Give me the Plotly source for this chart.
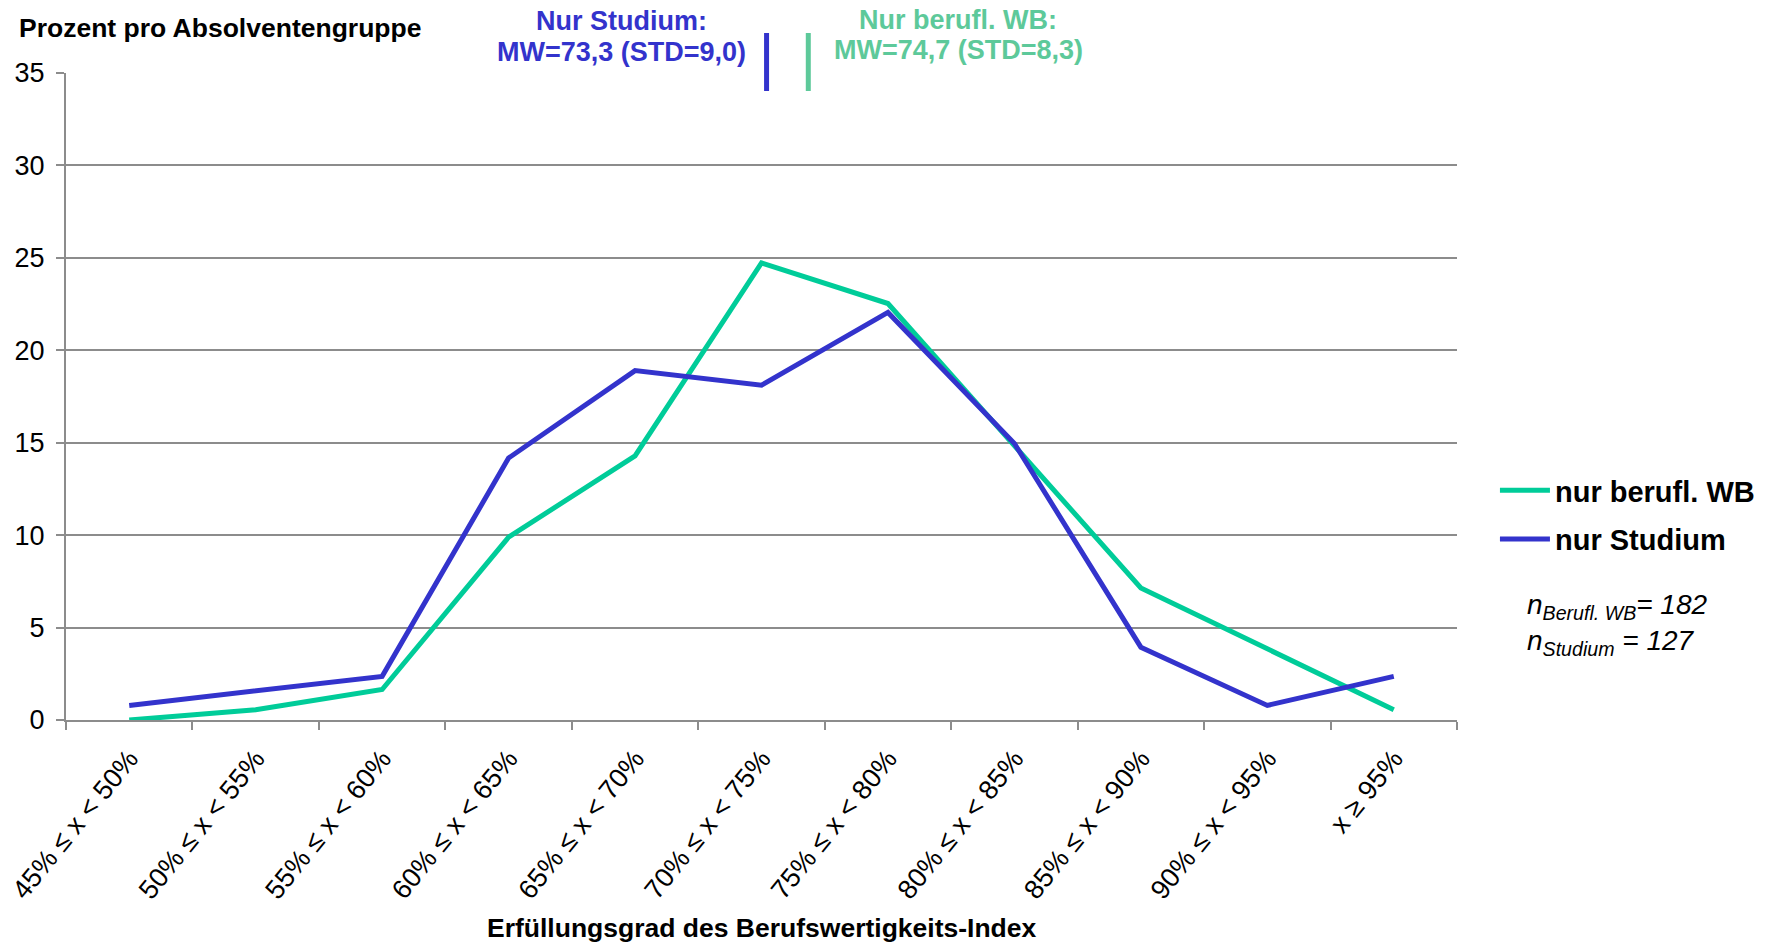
import plotly.graph_objects as go

# Erfüllungsgrad-Klassen
kategorien = ['45% ≤ x < 50%', '50% ≤ x < 55%', '55% ≤ x < 60%', '60% ≤ x < 65%',
              '65% ≤ x < 70%', '70% ≤ x < 75%', '75% ≤ x < 80%', '80% ≤ x < 85%',
              '85% ≤ x < 90%', '90% ≤ x < 95%', 'x ≥ 95%']

# Prozent pro Absolventengruppe
berufl_wb = [0.0, 0.55, 1.65, 9.89, 14.29, 24.73, 22.53, 14.84, 7.14, 3.85, 0.55]
studium = [0.79, 1.57, 2.36, 14.17, 18.90, 18.11, 22.05, 14.96, 3.94, 0.79, 2.36]

n_berufl_wb = 182
n_studium = 127
mw_studium, std_studium = '73,3', '9,0'
mw_berufl_wb, std_berufl_wb = '74,7', '8,3'

GREEN = '#00CC99'
GREEN_TXT = '#5DC99A'
BLUE = '#3333CC'
GRID = '#8C8C8C'
FONT = 'Liberation Sans, Arial, sans-serif'

fig = go.Figure()
fig.add_trace(go.Scatter(x=kategorien, y=berufl_wb, mode='lines', name='<b>nur berufl. WB</b>',
                         legendgroup='wb', line=dict(color=GREEN, width=5)))
fig.add_trace(go.Scatter(x=kategorien, y=studium, mode='lines', name='<b>nur Studium</b>',
                         legendgroup='st', line=dict(color=BLUE, width=5)))

fig.update_xaxes(
    type='category', range=[-0.5, 10.5], tickson='boundaries', ticks='outside', ticklen=8,
    tickcolor=GRID, tickwidth=2, showline=True, linecolor=GRID, linewidth=2,
    showgrid=False, tickangle=-51, tickfont=dict(size=27, color='black'),
    ticklabelstandoff=10, automargin=False,
)
fig.update_yaxes(
    range=[0, 35], dtick=5, ticks='outside', ticklen=8, tickcolor=GRID, tickwidth=2,
    showline=True, linecolor=GRID, linewidth=2, showgrid=True, gridcolor=GRID,
    gridwidth=2, zeroline=False, tickfont=dict(size=27, color='black'),
    ticklabelstandoff=6, automargin=False,
)

# Mittelwert-Markierungen oben
for xpos, col in [(5.04, BLUE), (5.37, GREEN_TXT)]:
    fig.add_shape(type='line', xref='x', yref='paper', x0=xpos, x1=xpos,
                  y0=0.9722, y1=1.0618, line=dict(color=col, width=5))

# Beschriftungen oben (zeilenweise)
for txt, x, y, col in [
    ('Nur Studium:', 0.3994, 1.0800, BLUE),
    (f'MW={mw_studium} (STD={std_studium})', 0.3994, 1.0332, BLUE),
    ('Nur berufl. WB:', 0.6416, 1.0820, GREEN_TXT),
    (f'MW={mw_berufl_wb} (STD={std_berufl_wb})', 0.6416, 1.0362, GREEN_TXT),
]:
    fig.add_annotation(xref='paper', yref='paper', x=x, y=y, xanchor='center', yanchor='middle',
                       text=f'<b>{txt}</b>', showarrow=False, font=dict(size=27, color=col))

fig.add_annotation(xref='paper', yref='paper', x=-0.035, y=1.070, xanchor='left', yanchor='middle',
                   text='<b>Prozent pro Absolventengruppe</b>', showarrow=False,
                   font=dict(size=26.5, color='black'))
fig.add_annotation(xref='paper', yref='paper', x=0.5, y=-0.322, xanchor='center', yanchor='middle',
                   text='<b>Erfüllungsgrad des Berufswertigkeits-Index</b>', showarrow=False,
                   font=dict(size=26.5, color='black'))
fig.add_annotation(xref='paper', yref='paper', x=1.049, y=0.147, xanchor='left', yanchor='middle',
                   align='left',
                   text=f'<i>n<sub>Berufl. WB</sub>= {n_berufl_wb}<br>n<sub>Studium</sub> = {n_studium}</i>',
                   showarrow=False, font=dict(size=28, color='black'))

# Seite hat 8px Rand -> Figur etwas kleiner, Plotfläche bei x 64..1455, y 73..720
fig.update_layout(
    width=1757, height=936,
    margin=dict(l=58, r=308, t=65, b=224),
    paper_bgcolor='white', plot_bgcolor='white',
    font=dict(family=FONT, color='black'),
    showlegend=True,
    # Legende im Container-Bezug, damit sie die Ränder nicht verschiebt
    legend=dict(xref='container', yref='container', x=0.8463, y=0.5118,
                xanchor='left', yanchor='top', itemwidth=50, tracegroupgap=8,
                font=dict(size=29, color='black'), bgcolor='rgba(0,0,0,0)'),
)

fig.write_html('out.html')
